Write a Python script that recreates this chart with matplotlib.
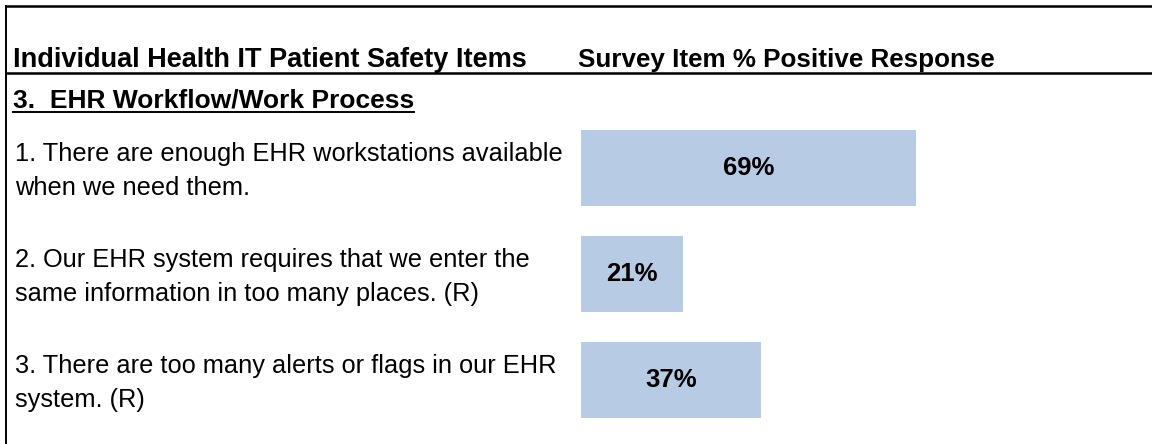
import matplotlib
matplotlib.use('Agg')
import matplotlib.pyplot as plt
from matplotlib import transforms

plt.rcParams['font.family'] = ['Liberation Sans', 'DejaVu Sans']

header_left = 'Individual Health IT Patient Safety Items'
header_right = 'Survey Item % Positive Response'
section_title = '3.  EHR Workflow/Work Process'
items = [
    '1. There are enough EHR workstations available\nwhen we need them.',
    '2. Our EHR system requires that we enter the\nsame information in too many places. (R)',
    '3. There are too many alerts or flags in our EHR\nsystem. (R)',
]
pct_positive = [69, 21, 37]

W, H = 1152, 444
fig = plt.figure(figsize=(W / 100, H / 100), dpi=100)

def fx(px):
    return px / W

def fy(py):
    return 1 - py / H

# bar area: 0-100% spans x 581..1067 px, rows centred at 168/274/380 px
ax = fig.add_axes([fx(581), fy(433), fx(486), (433 - 115) / H])
ypos = list(range(len(items)))
ax.barh(ypos, pct_positive, height=0.717, color='#B8CBE4')
ax.set_xlim(0, 100)
ax.set_ylim(len(items) - 0.5, -0.5)
ax.axis('off')
for y, v in zip(ypos, pct_positive):
    ax.text(v / 2, y, f'{v}%', ha='center', va='center',
            fontsize=18.5, fontweight='bold', color='black')

# item labels on the left, aligned to bar rows
tr = transforms.blended_transform_factory(fig.transFigure, ax.transData)
for y, label in zip(ypos, items):
    ax.text(fx(15), y + 0.03, label, transform=tr, ha='left', va='center',
            fontsize=18.3, linespacing=1.5, color='black')

# frame lines
lw = 1.8
fig.add_artist(plt.Line2D([fx(6), 1], [fy(6), fy(6)], color='black', lw=lw))
fig.add_artist(plt.Line2D([fx(6), fx(6)], [fy(6), 0], color='black', lw=1.4))
fig.add_artist(plt.Line2D([fx(6), 1], [fy(73), fy(73)], color='black', lw=lw))

# header
fig.text(fx(13), fy(67), header_left, ha='left', va='baseline',
         fontsize=19.5, fontweight='bold')
fig.text(fx(578), fy(67), header_right, ha='left', va='baseline',
         fontsize=18.7, fontweight='bold')

# section title with underline
sec = fig.text(fx(13), fy(108), section_title, ha='left', va='baseline',
               fontsize=19, fontweight='bold')
fig.canvas.draw()
bb = sec.get_window_extent()
fig.add_artist(plt.Line2D([bb.x0 / W, bb.x1 / W], [fy(112), fy(112)],
                          color='black', lw=1.4))

fig.savefig('out.png', dpi=100)
